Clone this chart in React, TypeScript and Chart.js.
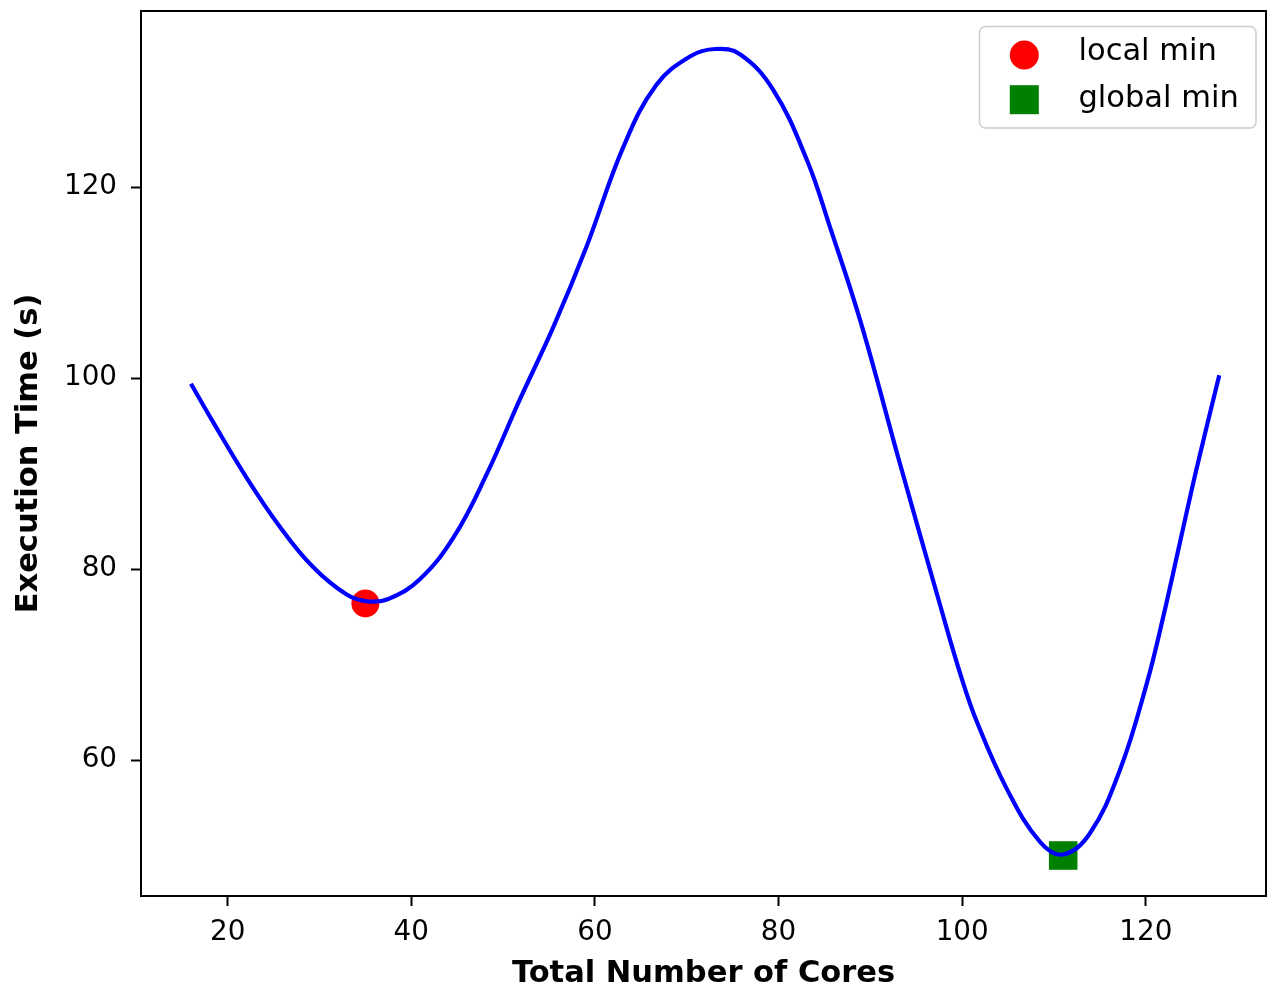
import React, { useEffect, useRef } from "react";
import { Chart, registerables } from "chart.js";

Chart.register(...registerables);

// ---- data ----
const coreCounts = [
  16.0, 18.4, 22.1, 25.7, 29.3, 33.0, 35.3, 37.6, 40.9, 44.6,
  48.2, 51.8, 55.5, 59.1, 63.1, 66.7, 70.4, 73.1, 75.8, 79.4,
  83.1, 85.6, 88.9, 93.2, 97.6, 99.8, 101.6, 104.9, 108.5, 111.0,
  113.9, 117.2, 120.1, 121.9, 123.7, 125.5, 128.0,
];
const executionTimes = [
  99.4, 95.4, 89.5, 84.4, 80.2, 77.3, 76.6, 76.9, 78.9, 83.3,
  89.9, 97.7, 105.4, 113.8, 124.2, 130.7, 133.7, 134.45, 133.9, 130.2,
  122.8, 115.8, 106.0, 91.1, 76.2, 69.0, 64.0, 56.9, 51.4, 50.1,
  52.3, 59.0, 68.0, 75.0, 82.7, 90.4, 100.3,
];
const localMinX = [35];
const localMinY = [76.4];
const globalMinX = [111];
const globalMinY = [50.0];

const xTickValues = [20, 40, 60, 80, 100, 120];
const yTickValues = [60, 80, 100, 120];
const xRange = [10.56, 133.09];
const yRange = [45.76, 138.43];

const xTitle = "Total Number of Cores";
const yTitle = "Execution Time (s)";
const localLabel = "local min";
const globalLabel = "global min";

const FONT = "'DejaVu Sans', 'Liberation Sans', sans-serif";

const framePlugin = {
  id: "mplFrame",
  afterDatasetsDraw(chart: any) {
    const { ctx, chartArea: a } = chart;
    ctx.save();
    ctx.strokeStyle = "#000";
    ctx.lineWidth = 2;
    ctx.strokeRect(a.left, a.top, a.right - a.left, a.bottom - a.top);
    ctx.restore();
  },
};

const legendPlugin = {
  id: "mplLegend",
  afterDraw(chart: any) {
    const ctx = chart.ctx;
    const ds = chart.data.datasets;
    ctx.save();
    const x = 979.5, y = 26.5, w = 276.5, h = 101.5, r = 6;
    ctx.beginPath();
    ctx.moveTo(x + r, y);
    ctx.lineTo(x + w - r, y);
    ctx.arcTo(x + w, y, x + w, y + r, r);
    ctx.lineTo(x + w, y + h - r);
    ctx.arcTo(x + w, y + h, x + w - r, y + h, r);
    ctx.lineTo(x + r, y + h);
    ctx.arcTo(x, y + h, x, y + h - r, r);
    ctx.lineTo(x, y + r);
    ctx.arcTo(x, y, x + r, y, r);
    ctx.closePath();
    ctx.fillStyle = "rgba(255,255,255,0.8)";
    ctx.fill();
    ctx.strokeStyle = "#cccccc";
    ctx.lineWidth = 1.4;
    ctx.stroke();

    ctx.fillStyle = ds[1].pointBackgroundColor;
    ctx.beginPath();
    ctx.arc(1024.3, 55, 14.5, 0, Math.PI * 2);
    ctx.fill();
    ctx.fillStyle = ds[2].pointBackgroundColor;
    ctx.fillRect(1024.3 - 14.5, 99.7 - 14.5, 29, 29);

    ctx.fillStyle = "#000";
    ctx.font = `30.5px ${FONT}`;
    ctx.textAlign = "left";
    ctx.textBaseline = "alphabetic";
    ctx.fillText(ds[1].label, 1078.5, 60);
    ctx.fillText(ds[2].label, 1078.5, 106.5);
    ctx.restore();
  },
};

export default function App() {
  const canvasRef = useRef<HTMLCanvasElement | null>(null);

  useEffect(() => {
    const canvas = canvasRef.current;
    if (!canvas) return;
    const chart = new Chart(canvas, {
      type: "line",
      data: {
        datasets: [
          {
            label: "curve",
            data: coreCounts.map((x, i) => ({ x, y: executionTimes[i] })),
            borderColor: "#0000ff",
            borderWidth: 4.2,
            pointRadius: 0,
            tension: 0.4,
            fill: false,
            order: 0,
          },
          {
            label: localLabel,
            data: localMinX.map((x, i) => ({ x, y: localMinY[i] })),
            showLine: false,
            pointStyle: "circle",
            pointRadius: 14,
            pointBackgroundColor: "#ff0000",
            pointBorderWidth: 0,
            borderColor: "#ff0000",
            order: 1,
          },
          {
            label: globalLabel,
            data: globalMinX.map((x, i) => ({ x, y: globalMinY[i] })),
            showLine: false,
            pointStyle: "rect",
            pointRadius: 20.2,
            pointBackgroundColor: "#008000",
            pointBorderWidth: 0,
            borderColor: "#008000",
            order: 1,
          },
        ],
      },
      options: {
        animation: false,
        responsive: false,
        devicePixelRatio: 1,
        events: [],
        layout: { autoPadding: false, padding: { top: 11, right: 9, left: 0, bottom: 0 } },
        plugins: {
          legend: { display: false },
          tooltip: { enabled: false },
        },
        scales: {
          x: {
            type: "linear",
            min: xRange[0],
            max: xRange[1],
            afterBuildTicks: (scale: any) => {
              scale.ticks = xTickValues.map((v) => ({ value: v }));
            },
            afterFit: (scale: any) => {
              scale.height = 96;
              scale.paddingLeft = 0;
              scale.paddingRight = 0;
            },
            border: { display: false },
            grid: {
              display: true,
              drawOnChartArea: false,
              drawTicks: true,
              tickLength: 10,
              tickWidth: 2,
              tickColor: "#000",
            },
            ticks: {
              color: "#000",
              padding: 10,
              maxRotation: 0,
              autoSkip: false,
              font: { family: FONT, size: 27.8 },
              callback: (v: any) => String(v),
            },
            title: {
              display: true,
              text: xTitle,
              color: "#000",
              padding: { top: 0, bottom: 0 },
              font: { family: FONT, size: 30.5, weight: "bold", lineHeight: 1.2 },
            },
          },
          y: {
            type: "linear",
            min: yRange[0],
            max: yRange[1],
            afterBuildTicks: (scale: any) => {
              scale.ticks = yTickValues.map((v) => ({ value: v }));
            },
            afterFit: (scale: any) => {
              scale.width = 141;
              scale.paddingTop = 0;
              scale.paddingBottom = 0;
            },
            border: { display: false },
            grid: {
              display: true,
              drawOnChartArea: false,
              drawTicks: true,
              tickLength: 10,
              tickWidth: 2,
              tickColor: "#000",
            },
            ticks: {
              color: "#000",
              padding: 14,
              autoSkip: false,
              font: { family: FONT, size: 27.8 },
              callback: (v: any) => String(v),
            },
            title: {
              display: true,
              text: yTitle,
              color: "#000",
              padding: { top: 11, bottom: 0 },
              font: { family: FONT, size: 30.5, weight: "bold", lineHeight: 1.2 },
            },
          },
        },
      } as any,
      plugins: [framePlugin, legendPlugin],
    });
    return () => chart.destroy();
  }, []);

  return (
    <div style={{ position: "absolute", left: 0, top: 0, width: 1275, height: 992, background: "#fff" }}>
      <canvas ref={canvasRef} width={1275} height={992} style={{ display: "block" }} />
    </div>
  );
}
